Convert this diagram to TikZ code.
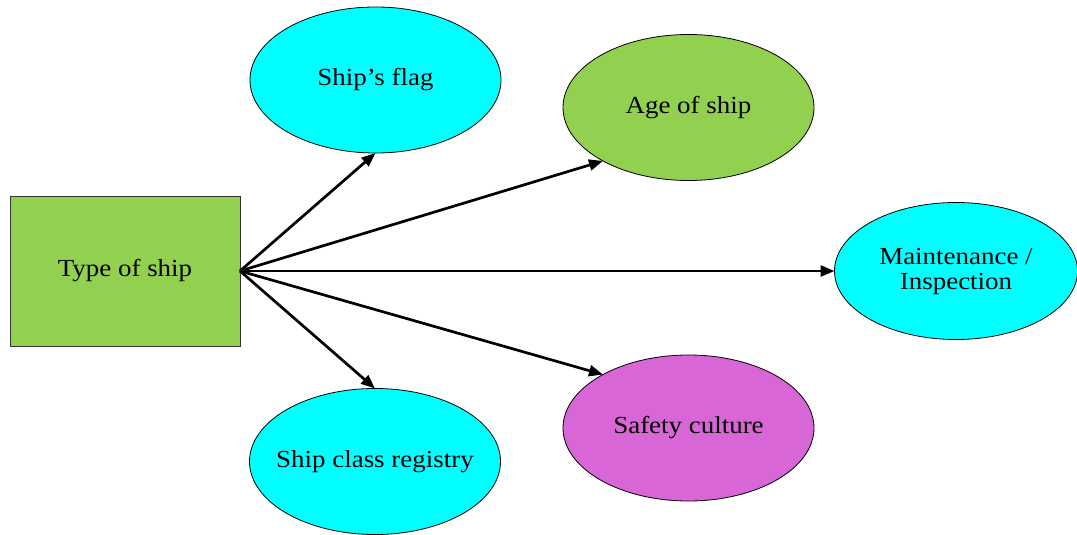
\documentclass[tikz,border=0pt]{standalone}
\usepackage{fontspec}
\setmainfont{Liberation Serif}[FakeStretch=1.1]
\usetikzlibrary{shapes.geometric,arrows.meta}
\definecolor{leafgreen}{HTML}{92D050}
\definecolor{aqua}{HTML}{00FFFF}
\definecolor{orchidpink}{HTML}{D966D6}
\newcommand{\bubbletext}[1]{\makebox[0pt][c]{#1}}
\begin{document}
\begin{tikzpicture}[x=1pt,y=-1pt,
  every node/.style={font=\fontsize{24.5}{27}\selectfont, align=center},
  bubble/.style={ellipse, draw=black, line width=0.8pt, inner sep=0pt, outer sep=0pt,
                 minimum width=251pt, minimum height=146pt},
  factor/.style={rectangle, draw=black!80, line width=1pt, fill=leafgreen,
                 minimum width=230pt, minimum height=150pt, inner sep=0pt, outer sep=0pt},
  link/.style={line width=2.7pt, -{Triangle[length=14pt,width=11pt]}}]
  \useasboundingbox (0,0) rectangle (1077,535);

  % central factor
  \node[factor] (type) at (125,271) {Type of ship};

  % influenced attributes
  \node[bubble, fill=aqua] (flag) at (375.5,80) {\bubbletext{Ship’s flag}};
  \node[bubble, fill=leafgreen] (age) at (688.5,107.5) {\bubbletext{Age of ship}};
  \node[bubble, fill=aqua, minimum width=243pt, minimum height=137pt] (maint) at (956,271)
       {\bubbletext{Maintenance /}\\[-2pt]\bubbletext{Inspection}};
  \node[bubble, fill=orchidpink] (safety) at (688.5,428) {\bubbletext{Safety culture}};
  \node[bubble, fill=aqua] (registry) at (375,461.5) {\bubbletext{Ship class registry}};

  % connectors
  \draw[link] (type.east) -- (flag.south);
  \draw[link] (type.east) -- (age.212);
  \draw[link] (type.east) -- (maint.west);
  \draw[link] (type.east) -- (safety.148);
  \draw[link] (type.east) -- (registry.north);
\end{tikzpicture}
\end{document}
